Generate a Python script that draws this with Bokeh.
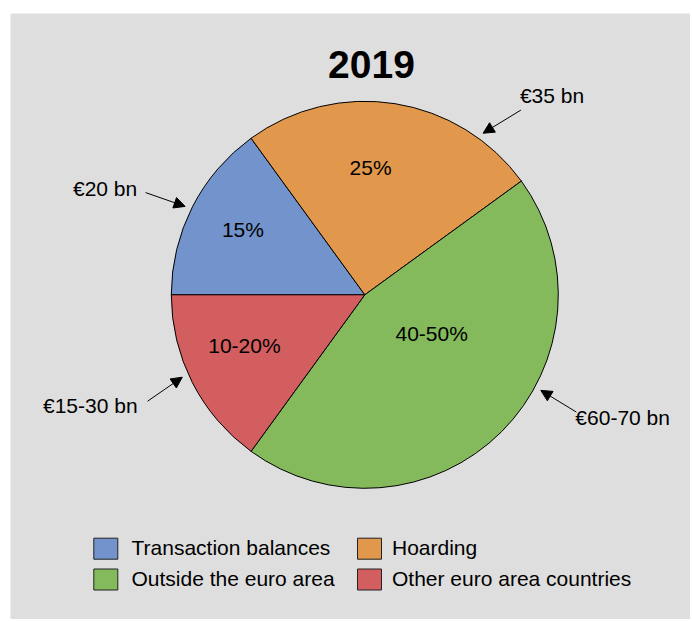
import numpy as np
from bokeh.plotting import figure
from bokeh.models import Range1d, Arrow, NormalHead, ColumnDataSource
from bokeh.core.properties import value
from bokeh.embed import file_html
from bokeh.resources import INLINE

# ---------------- data ----------------
title_text = "2019"
categories = ["Transaction balances", "Hoarding", "Outside the euro area", "Other euro area countries"]
shares = [15, 25, 45, 15]
share_labels = ["15%", "25%", "40-50%", "10-20%"]
amount_labels = ["€20 bn", "€35 bn", "€60-70 bn", "€15-30 bn"]
colors = ["#7293CB", "#E1974C", "#84BA5B", "#D35E60"]

# ---------------- layout ----------------
BG = "#DEDEDE"
FONT = "Liberation Sans"
FS = 21
FS_T = 39
BASE_FIX = 0.39              # empirical baseline correction (em)
W, H = 680, 606
PX0, PY0 = 10, 13           # page position of the figure
YREF = 621                   # data y = YREF - page y
CX, CY = 364.3, YREF - 294.3
R = 193.5

# label placement (relative to each slice's mid-angle)
lab_dangle = [-0.95, 6.4, 14.5, -3.75]
lab_frac = [0.713, 0.656, 0.401, 0.677]
# callout arrows
tip_angle = [153.8, 53.8, -28.5, 204.3]
tail_angle = [155.0, 49.8, -29.0, 206.1]
tip_frac, tail_frac = 1.035, 1.25
call_dx = [-8.4, -1.0, -1.0, -10.0]
call_dy = [4.0, -6.0, 13.4, 12.3]       # page px, down positive
call_align = ["right", "left", "left", "right"]

p = figure(width=W, height=H, output_backend="svg", toolbar_location=None,
           x_range=Range1d(PX0, PX0 + W), y_range=Range1d(YREF - PY0 - H, YREF - PY0),
           x_axis_type=None, y_axis_type=None, min_border=0,
           background_fill_color=BG, border_fill_color=BG, outline_line_color=None)
p.grid.visible = False
p.margin = (PY0, 0, 0, PX0)

fix = -BASE_FIX * FS

# ---- pie ----
tot = float(sum(shares))
cum = np.cumsum([0] + shares) / tot * 2 * np.pi
starts = np.pi - cum[:-1]
ends = np.pi - cum[1:]
mids = (starts + ends) / 2
pie_src = ColumnDataSource(dict(start=starts, end=ends, color=colors, cat=categories))
p.wedge(x=CX, y=CY, radius=R, start_angle="start", end_angle="end", direction="clock",
        fill_color="color", line_color="black", line_width=1, source=pie_src)

# ---- percentage labels ----
la = mids + np.radians(lab_dangle)
lx = CX + np.array(lab_frac) * R * np.cos(la)
ly = CY + np.array(lab_frac) * R * np.sin(la)
p.text(x=lx, y=ly, text=share_labels, text_font=value(FONT), text_font_size=f"{FS}px",
       text_align="center", text_baseline="alphabetic", y_offset=7.3 + fix, text_color="black")

# ---- callouts ----
ta = np.radians(tip_angle)
tl = np.radians(tail_angle)
xs = CX + tail_frac * R * np.cos(tl)
ys = CY + tail_frac * R * np.sin(tl)
xe = CX + tip_frac * R * np.cos(ta)
ye = CY + tip_frac * R * np.sin(ta)
arr_src = ColumnDataSource(dict(xs=xs, ys=ys, xe=xe, ye=ye))
p.add_layout(Arrow(end=NormalHead(size=11, fill_color="black", line_color="black", line_width=1),
                   x_start="xs", y_start="ys", x_end="xe", y_end="ye",
                   line_color="black", line_width=1, source=arr_src))
call_src = ColumnDataSource(dict(x=xs + np.array(call_dx), y=ys - np.array(call_dy),
                                 t=amount_labels, a=call_align))
p.text(x="x", y="y", text="t", text_align="a", text_baseline="alphabetic", y_offset=fix,
       text_font=value(FONT), text_font_size=f"{FS}px", text_color="black", source=call_src)

# ---- title ----
p.text(x=[371], y=[YREF - 79], text=[title_text], text_font=value(FONT), text_font_size=f"{FS_T}px",
       text_font_style="bold", text_align="center", text_baseline="alphabetic",
       y_offset=-BASE_FIX * FS_T, text_color="black")

# ---- legend (2 x 2) ----
col_box_x = [105.3, 369.0]
col_text_x = [131.0, 391.5]
row_box_y = [549.7, 580.5]
row_base_y = [555.0, 586.0]
bx, by, tx, ty = [], [], [], []
for i in range(len(categories)):
    r, c = divmod(i, 2)
    bx.append(col_box_x[c]); by.append(YREF - row_box_y[r] + 1.5)
    tx.append(col_text_x[c]); ty.append(YREF - row_base_y[r])
p.rect(x=bx, y=by, width=24, height=21, fill_color=colors, line_color="#222222", line_width=1)
p.text(x=tx, y=ty, text=categories, text_font=value(FONT), text_font_size=f"{FS}px",
       text_align="left", text_baseline="alphabetic", y_offset=fix, text_color="black")

open("out.html", "w").write(file_html(p, INLINE))
